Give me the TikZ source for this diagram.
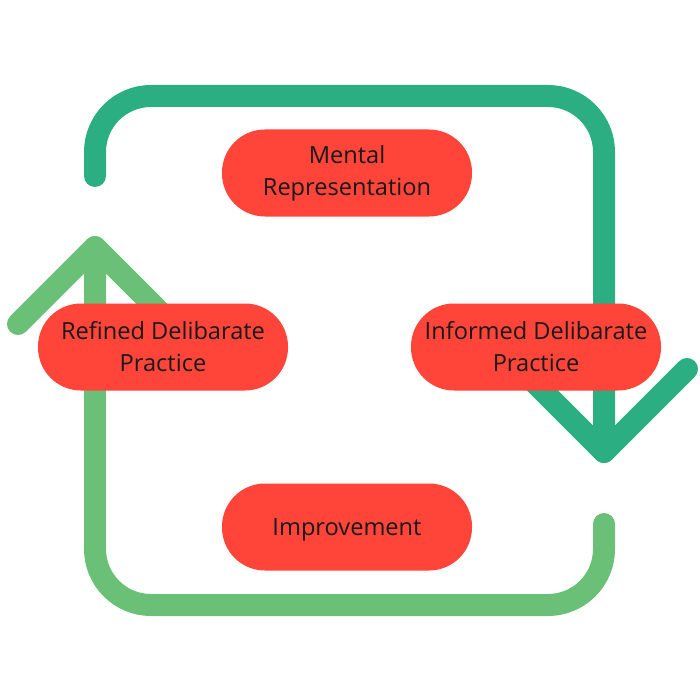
\documentclass[tikz,border=0pt]{standalone}
\usepackage{fontspec}
\setmainfont{Open Sans}
\usepackage{xcolor}
\usepackage{tikz}
\usetikzlibrary{positioning, calc}
\definecolor{loopdark}{HTML}{2BAF82}
\definecolor{looplight}{HTML}{6AC077}
\definecolor{pillred}{HTML}{FF443A}

\tikzset{
  pill/.style={fill=pillred, rounded corners=21.5pt, minimum width=125pt, minimum height=43.5pt,
    align=center, font=\fontsize{11.8}{16}\selectfont, text=black!90, inner sep=0pt,
    execute at begin node={\rule{0pt}{11.8pt}}},
  loopline/.style={line width=11pt, line cap=round, line join=round}
}

\begin{document}
\begin{tikzpicture}[x=0.5pt, y=-0.5pt]
  \useasboundingbox (0,0) rectangle (700,700);

  % Corner points of the loop
  \coordinate (startA) at (95,176);
  \coordinate (tipA) at (604,452);
  \coordinate (startB) at (604,524);
  \coordinate (tipB) at (95,247);

  % Upper loop, dark green
  \draw[loopline, loopdark, rounded corners=28pt] (startA) -- (95,96) -- (604,96) -- (tipA);
  \draw[loopline, loopdark] ($(tipA)+(-83,-83)$) -- (tipA) -- ($(tipA)+(83,-83)$);

  % Lower loop, light green
  \draw[loopline, looplight, rounded corners=28pt] (startB) -- (604,605) -- (95,605) -- (tipB);
  \draw[loopline, looplight] ($(tipB)+(-77,77)$) -- (tipB) -- ($(tipB)+(77,77)$);

  % Stages
  \node[pill] (mental) at (347,173) {Mental\\Representation};
  \node[pill] (refined) at (163,347) {Refined Delibarate\\Practice};
  \node[pill] (informed) at (536,347) {Informed Delibarate\\Practice};
  \node[pill] (improve) at (347,527) {Improvement};
\end{tikzpicture}
\end{document}
